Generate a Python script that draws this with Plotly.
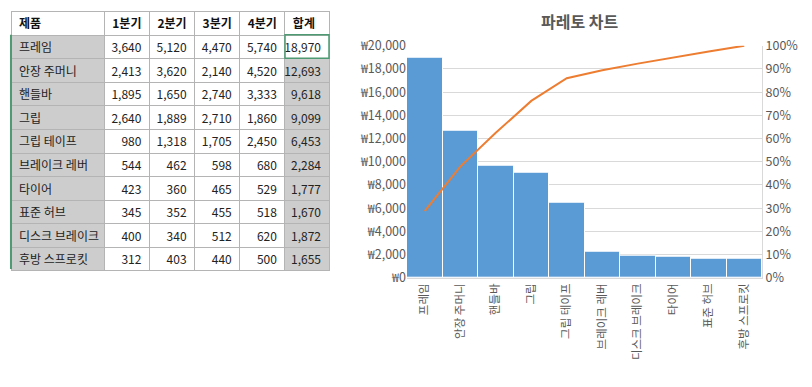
import numpy as np
import plotly.graph_objects as go

# ---- data ----
products = ["프레임", "안장 주머니", "핸들바", "그립", "그립 테이프",
            "브레이크 레버", "타이어", "표준 허브", "디스크 브레이크", "후방 스프로킷"]
q1 = [3640, 2413, 1895, 2640, 980, 544, 423, 345, 400, 312]
q2 = [5120, 3620, 1650, 1889, 1318, 462, 360, 352, 340, 403]
q3 = [4470, 2140, 2740, 2710, 1705, 598, 465, 455, 512, 440]
q4 = [5740, 4520, 3333, 1860, 2450, 680, 529, 518, 620, 500]
totals = [18970, 12693, 9618, 9099, 6453, 2284, 1777, 1670, 1872, 1655]
headers = ["제품", "1분기", "2분기", "3분기", "4분기", "합계"]
chart_title = "파레토 차트"

# Pareto ordering (descending totals) and cumulative share
order = sorted(range(len(totals)), key=lambda i: -totals[i])
p_names = [products[i] for i in order]
p_vals = [totals[i] for i in order]
cum_share = list(np.cumsum(p_vals) / np.sum(p_vals))

W, H = 812, 387
FONT = "Noto Sans CJK KR"
TOP, SPAN = 8, 371   # observed vertical placement of the paper area


def px_x(x):
    return x / W


def px_y(y):
    return min(1.0, 1 - (y - TOP) / SPAN)


fig = go.Figure()

# ---- table ----
n = len(products)
gray = "#cdcdcd"
fill_cols = [
    [gray] * n,
    ["white"] * n,
    ["white"] * n,
    ["white"] * n,
    ["white"] * n,
    ["white"] + [gray] * (n - 1),
]
fmt = lambda arr: [f"{v:,}" for v in arr]
nowrap = [p.replace(" ", "\u00a0") for p in products]
fig.add_trace(go.Table(
    domain=dict(x=[px_x(11), px_x(329)], y=[px_y(271), px_y(7)]),
    columnwidth=[93, 45, 45, 45, 45, 44],
    header=dict(
        values=headers,
        fill_color="white",
        line_color="#b4b4b4",
        line_width=1,
        align="left",
        font=dict(family=FONT, size=12, color="#111111", weight="bold"),
        height=24,
    ),
    cells=dict(
        values=[nowrap, fmt(q1), fmt(q2), fmt(q3), fmt(q4), fmt(totals)],
        fill_color=fill_cols,
        line_color="#b4b4b4",
        line_width=1,
        align=["left", "right", "right", "right", "right", "right"],
        font=dict(family=FONT, size=12, color="#222222"),
        height=23.6,
    ),
))

# ---- pareto chart ----
xs = list(range(len(p_vals)))
fig.add_trace(go.Bar(
    x=xs, y=p_vals,
    marker=dict(color="#5B9BD5", line=dict(color="#ffffff", width=1)),
    width=1.0,
    xaxis="x", yaxis="y",
    showlegend=False,
    hoverinfo="skip",
))
fig.add_trace(go.Scatter(
    x=xs, y=cum_share,
    mode="lines",
    line=dict(color="#ED7D31", width=2),
    xaxis="x", yaxis="y2",
    showlegend=False,
    hoverinfo="skip",
))

x0, x1 = px_x(407), px_x(762)
y0, y1 = px_y(277), px_y(43)
xtickfont = dict(family=FONT, size=11.5, color="#595959")
ytickfont = dict(family=FONT, size=12.5, color="#595959")

fig.update_layout(
    width=W, height=H, autosize=False,
    margin=dict(l=0, r=0, t=0, b=0),
    paper_bgcolor="white",
    plot_bgcolor="white",
    bargap=0,
    xaxis=dict(
        domain=[x0, x1],
        range=[-0.5, len(p_vals) - 0.5],
        tickmode="array", tickvals=xs, ticktext=p_names,
        tickangle=-90,
        tickfont=xtickfont,
        showgrid=False, zeroline=False,
        showline=True, linecolor="#d9d9d9", linewidth=1,
        ticks="",
    ),
    yaxis=dict(
        domain=[y0, y1],
        range=[0, 20000], dtick=2000,
        tickprefix="₩", tickformat=",",
        tickfont=ytickfont,
        showgrid=True, gridcolor="#d9d9d9", gridwidth=1,
        zeroline=False, showline=False,
        ticks="",
    ),
    yaxis2=dict(
        overlaying="y", side="right",
        anchor="x",
        range=[0, 1], dtick=0.1, tickformat=".0%",
        tickfont=ytickfont,
        showgrid=False, zeroline=False,
        showline=True, linecolor="#d9d9d9", linewidth=1,
        ticks="",
    ),
    annotations=[dict(
        text=f"<b>{chart_title}</b>",
        x=px_x(580), y=px_y(18), xref="paper", yref="paper",
        xanchor="center", yanchor="middle",
        showarrow=False,
        font=dict(family=FONT, size=16, color="#595959"),
    )],
    shapes=[
        dict(type="line", xref="paper", yref="paper",
             x0=px_x(11), x1=px_x(11), y0=px_y(32), y1=px_y(268),
             line=dict(color="#4e9a73", width=2)),
        dict(type="rect", xref="paper", yref="paper",
             x0=px_x(285), x1=px_x(329), y0=px_y(55.6), y1=px_y(32),
             line=dict(color="#4e9a73", width=1.5)),
    ],
)

post = (
    "document.body.style.margin='0';"
    "document.body.style.overflow='hidden';"
)
fig.write_html("out.html",
               config={"displayModeBar": False, "responsive": False},
               post_script=post)
